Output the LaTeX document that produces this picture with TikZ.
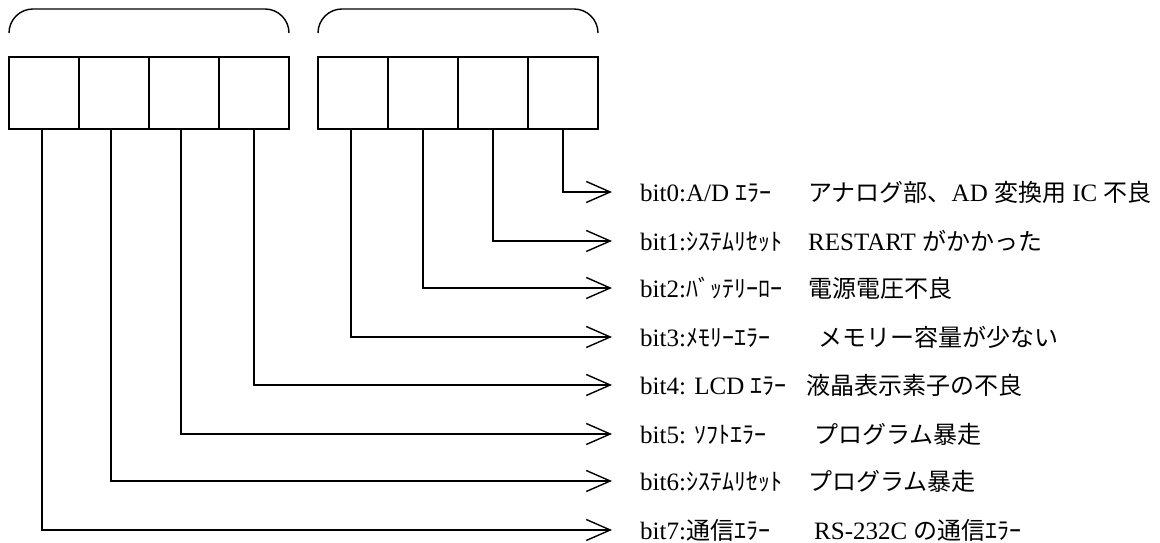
\documentclass[tikz,border=0pt]{standalone}
\usepackage{fontspec}
\setmainfont{Liberation Serif}
\newfontfamily\jp{Noto Sans CJK JP}
\usetikzlibrary{arrows.meta,calc}
\newcommand{\J}[1]{{\jp\fontsize{24}{29}\selectfont #1}}
\begin{document}
\begin{tikzpicture}[x=1pt,y=1pt,
  cell/.style={draw,line width=1.6pt,minimum width=70pt,minimum height=72pt,inner sep=0pt,outer sep=0pt},
  conn/.style={line width=1.4pt,-{Straight Barb[length=24pt,width=21pt,line width=1.4pt]}},
  brk/.style={line width=1.4pt,rounded corners=24pt},
  lbl/.style={anchor=base west,inner sep=0pt,font=\fontsize{25}{30}\selectfont}]
\useasboundingbox (0,0) rectangle (1160,543);
% cells
\node[cell] (c7) at (44,450) {};
\node[cell] (c6) at (114,450) {};
\node[cell] (c5) at (184,450) {};
\node[cell] (c4) at (254,450) {};
\node[cell] (c3) at (353,450) {};
\node[cell] (c2) at (423,450) {};
\node[cell] (c1) at (493,450) {};
\node[cell] (c0) at (563,450) {};
% brackets
\draw[brk] ($(c7.north west)+(0,24)$) -- ($(c7.north west)+(0,48)$) -- ($(c4.north east)+(0,48)$) -- ($(c4.north east)+(0,24)$);
\draw[brk] ($(c3.north west)+(0,24)$) -- ($(c3.north west)+(0,48)$) -- ($(c0.north east)+(0,48)$) -- ($(c0.north east)+(0,24)$);
% arrow ends
\coordinate (e0) at (612,351);
\coordinate (e1) at (612,302);
\coordinate (e2) at (612,255);
\coordinate (e3) at (612,206);
\coordinate (e4) at (612,158);
\coordinate (e5) at (612,109);
\coordinate (e6) at (612,62);
\coordinate (e7) at (612,13);
% connectors
\draw[conn] (c0.south) |- (e0);
\draw[conn] (c1.south) |- (e1);
\draw[conn] (c2.south) |- (e2);
\draw[conn] ([xshift=-2pt]c3.south) |- (e3);
\draw[conn] (c4.south) |- (e4);
\draw[conn] ([xshift=-3pt]c5.south) |- (e5);
\draw[conn] ([xshift=-3pt]c6.south) |- (e6);
\draw[conn] ([xshift=-2pt]c7.south) |- (e7);
% labels
\node[lbl] (l0) at (640,341) {bit0:A/D \J{ｴﾗｰ}};
\node[lbl] (l1) at (640,292) {bit1:\J{ｼｽﾃﾑﾘｾｯﾄ}};
\node[lbl] (l2) at (640,245) {bit2:\J{ﾊﾞｯﾃﾘｰﾛｰ}};
\node[lbl] (l3) at (640,196) {bit3:\J{ﾒﾓﾘｰｴﾗｰ}};
\node[lbl] (l4) at (640,148) {bit4: LCD \J{ｴﾗｰ}};
\node[lbl] (l5) at (640,99) {bit5: \J{ｿﾌﾄｴﾗｰ}};
\node[lbl] (l6) at (640,52) {bit6:\J{ｼｽﾃﾑﾘｾｯﾄ}};
\node[lbl] (l7) at (640,3) {bit7:\J{通信ｴﾗｰ}};
% descriptions
\node[lbl] (d0) at (808,341) {\J{アナログ部、}AD \J{変換用} IC \J{不良}};
\node[lbl] (d1) at (808,292) {RESTART \J{がかかった}};
\node[lbl] (d2) at (808,245) {\J{電源電圧不良}};
\node[lbl] (d3) at (818,196) {\J{メモリー容量が少ない}};
\node[lbl] (d4) at (806,148) {\J{液晶表示素子の不良}};
\node[lbl] (d5) at (814,99) {\J{プログラム暴走}};
\node[lbl] (d6) at (808,52) {\J{プログラム暴走}};
\node[lbl] (d7) at (814,3) {RS-232C \J{の通信ｴﾗｰ}};
\end{tikzpicture}
\end{document}
